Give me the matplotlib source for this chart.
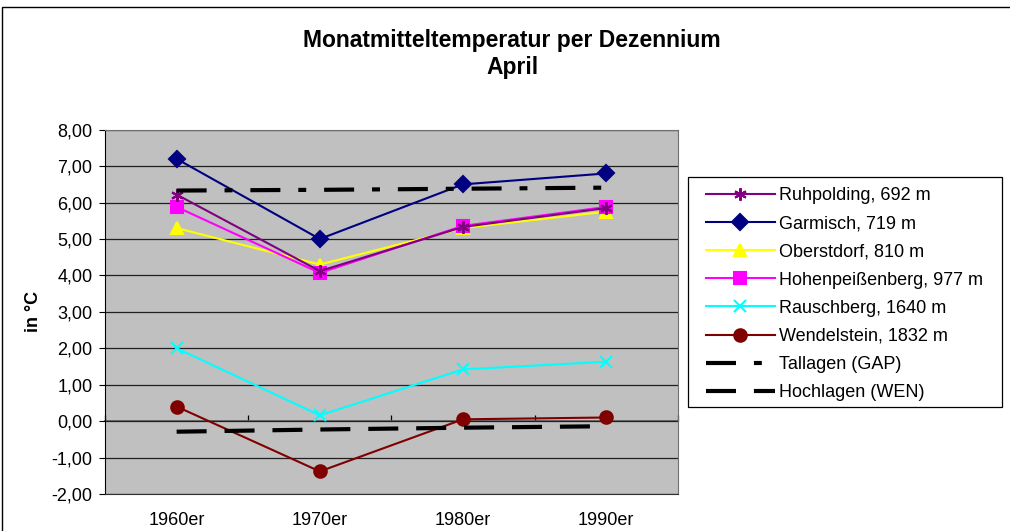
import matplotlib.pyplot as plt
from matplotlib.patches import Rectangle

plt.rcParams['font.family'] = ['Liberation Sans', 'DejaVu Sans']

# Daten (April, Mittel je Dezennium)
decades = ["1960er", "1970er", "1980er", "1990er"]
ruhpolding = [6.22, 4.12, 5.33, 5.85]
garmisch = [7.2, 5.0, 6.5, 6.8]
oberstdorf = [5.3, 4.3, 5.3, 5.75]
hohenpeissenberg = [5.88, 4.07, 5.36, 5.88]
rauschberg = [2.0, 0.16, 1.42, 1.63]
wendelstein = [0.4, -1.38, 0.05, 0.1]
tallagen = [6.33, 6.35, 6.38, 6.41]
hochlagen = [-0.29, -0.23, -0.18, -0.14]
yticks = [-2, -1, 0, 1, 2, 3, 4, 5, 6, 7, 8]

x = list(range(1, len(decades) + 1))
W, H = 1010, 531

fig = plt.figure(figsize=(W / 100, H / 100), dpi=100)
ax = fig.add_axes([0.104, 0.0697, 0.567, 0.686])
ax.set_facecolor("#C0C0C0")

# Rahmen um das ganze Diagramm
fig.patches.append(Rectangle((0.002, -0.05), 1.1, 1.037, transform=fig.transFigure,
                             fill=False, edgecolor="black", linewidth=1.0))

lw = 1.5
series = [
    ("Ruhpolding, 692 m", ruhpolding, "#800080", (6, 2, 0), 9, 4),
    ("Garmisch, 719 m", garmisch, "#000080", "D", 8, 3),
    ("Oberstdorf, 810 m", oberstdorf, "#FFFF00", "^", 9, 2),
    ("Hohenpeißenberg, 977 m", hohenpeissenberg, "#FF00FF", "s", 9, 3),
    ("Rauschberg, 1640 m", rauschberg, "#00FFFF", "x", 9, 3),
    ("Wendelstein, 1832 m", wendelstein, "#800000", "o", 9, 3),
]
for label, vals, col, mk, ms, z in series:
    ax.plot(x, vals, color=col, marker=mk, markersize=ms, linewidth=lw,
            markeredgecolor=col, markerfacecolor=col, markeredgewidth=1.5,
            label=label, zorder=z)

ax.plot(x, tallagen, color="black", linewidth=3,
        linestyle=(0, (7.2, 4.3, 1.9, 4.3)), label="Tallagen (GAP)",
        zorder=5, dash_capstyle="butt")
ax.plot(x, hochlagen, color="black", linewidth=3,
        linestyle=(0, (7.2, 4.3)), label="Hochlagen (WEN)",
        zorder=5, dash_capstyle="butt")

ax.set_xlim(0.5, 4.5)
ax.set_ylim(-2, 8)
ax.set_yticks(yticks)
ax.set_yticklabels([f"{v:.2f}".replace(".", ",") for v in yticks])
ax.set_xticks(x)
ax.set_xticklabels(decades)
ax.tick_params(axis="x", length=0, pad=13, labelsize=13)
ax.tick_params(axis="y", length=4, width=0.8, color="black", pad=5, labelsize=13)
ax.grid(axis="y", color="#202020", linewidth=0.9)
ax.set_axisbelow(True)

for s in ["top", "right", "bottom"]:
    ax.spines[s].set_color("#707070")
ax.spines["left"].set_color("black")
ax.spines["bottom"].set_color("#303030")

# Kategorienachse bei 0
zero_ax = ax.secondary_xaxis(0.2)
zero_ax.set_xticks([0.5, 1.5, 2.5, 3.5, 4.5])
zero_ax.set_xticklabels([])
zero_ax.tick_params(direction="in", length=4, width=0.9, color="black")
zero_ax.spines["bottom"].set_color("#606060")
zero_ax.spines["bottom"].set_linewidth(1.2)

ax.set_ylabel("in °C", fontsize=13, fontweight="bold", labelpad=7)

fig.text(0.507, 1 - 54 / H, "Monatmitteltemperatur per Dezennium\nApril", ha="center", va="center",
         fontsize=16.5, fontweight="bold", linespacing=1.2)

# Legende mit eigenem Rahmen
fig.patches.append(Rectangle((688 / W, 1 - 407 / H), (1002 - 688) / W, (407 - 177) / H,
                             transform=fig.transFigure, fill=False,
                             edgecolor="black", linewidth=0.9))
leg = fig.legend(loc="upper left", bbox_to_anchor=(706 / W, 1 - 187 / H), fontsize=13,
                 frameon=False, handlelength=3.8, labelspacing=0.62, borderpad=0,
                 handletextpad=0.22, borderaxespad=0)

plt.savefig("out.png", dpi=100)
